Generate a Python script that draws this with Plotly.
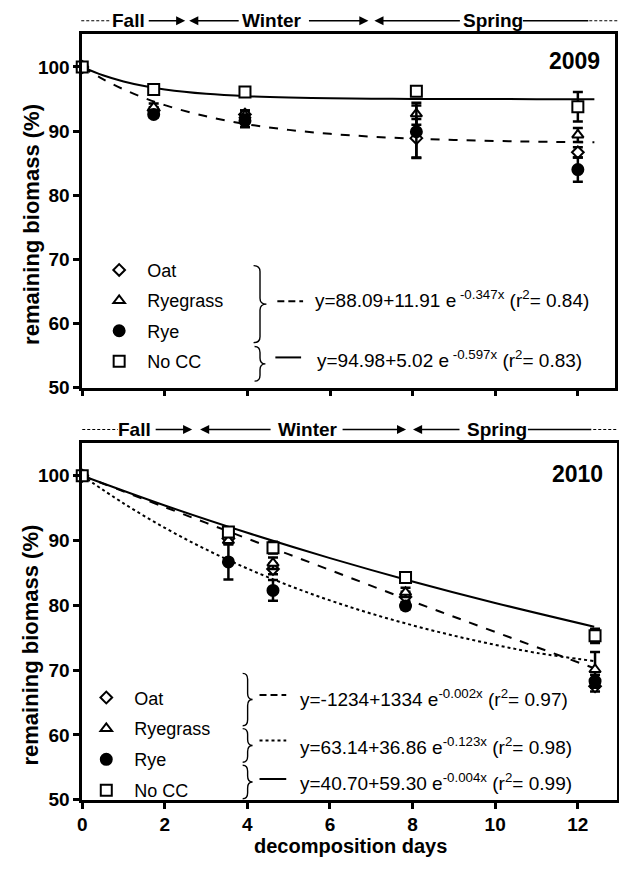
import plotly.graph_objects as go

# ---------------- data ----------------
treatments = ["Oat", "Ryegrass", "Rye", "No CC"]

days_2009 = [0, 1.73, 3.94, 8.09, 12.0]
oat_2009 = [100, 93.2, 92.6, 88.9, 86.7]
oat_2009_err = [0, 0.5, 0.6, 3.0, 0.8]
ryegrass_2009 = [100, 93.7, 92.4, 92.7, 89.4]
ryegrass_2009_err = [0, 0.6, 0.8, 1.7, 1.1]
rye_2009 = [100, 92.6, 91.6, 89.9, 84.0]
rye_2009_err = [0, 0.5, 1.0, 4.1, 1.9]
nocc_2009 = [100, 96.5, 96.1, 96.2, 93.8]
nocc_2009_err = [0, 0.3, 0.4, 0.3, 2.3]

fit_x_2009 = [0, 0.5, 1, 1.5, 2, 3, 4, 5, 6, 7, 8, 9, 10, 11, 12.4]
fit_cc_2009 = [100, 98.10, 96.51, 95.17, 94.04, 92.30, 91.06, 90.19, 89.57, 89.14, 88.83, 88.61, 88.46, 88.35, 88.25]
fit_nocc_2009 = [100, 98.70, 97.74, 97.03, 96.50, 95.82, 95.44, 95.23, 95.12, 95.06, 95.02, 95.00, 94.99, 94.98, 94.98]

days_2010 = [0, 3.54, 4.62, 7.83, 12.42]
oat_2010 = [100, 90.3, 85.6, 81.3, 67.5]
oat_2010_err = [0, 0.6, 0.8, 0.8, 0.8]
ryegrass_2010 = [100, 90.0, 86.5, 82.0, 70.1]
ryegrass_2010_err = [0, 0.5, 0.9, 0.7, 2.7]
rye_2010 = [100, 86.7, 82.3, 79.9, 68.3]
rye_2010_err = [0, 2.7, 1.6, 0.5, 1.0]
nocc_2010 = [100, 91.3, 88.9, 84.3, 75.3]
nocc_2010_err = [0, 0.6, 0.9, 0.5, 1.1]

fit_x_2010a = [0, 2, 4, 6, 8, 10, 12.4]
fit_oatrg_2010 = [100, 95.15, 90.3, 85.45, 80.6, 75.9, 70.3]
fit_nocc_2010 = [100, 95.41, 91.19, 87.29, 83.69, 80.37, 76.70]
fit_x_2010b = [0, 1, 2, 3, 4, 5, 6, 7, 8, 9, 10, 11, 12.4]
fit_rye_2010 = [100, 95.74, 91.96, 88.62, 85.68, 83.07, 80.76, 78.72, 76.92, 75.32, 73.91, 72.67, 71.4]

eq_2009 = ["y=88.09+11.91 e<sup> -0.347x</sup> (r<sup>2</sup>= 0.84)",
           "y=94.98+5.02 e<sup> -0.597x</sup> (r<sup>2</sup>= 0.83)"]
eq_2010 = ["y=-1234+1334 e<sup>-0.002x</sup> (r<sup>2</sup>= 0.97)",
           "y=63.14+36.86 e<sup>-0.123x</sup> (r<sup>2</sup>= 0.98)",
           "y=40.70+59.30 e<sup>-0.004x</sup> (r<sup>2</sup>= 0.99)"]

x_ticks = [0, 2, 4, 6, 8, 10, 12]
y_ticks = [50, 60, 70, 80, 90, 100]

# ---------------- helpers ----------------
W, H = 619, 870
FONT = "Liberation Sans, Arial, sans-serif"


def px(x):
    return x / W


def py(y):
    return 1 - y / H


fig = go.Figure()

symbols = {"Oat": ("diamond", "white", 9),
           "Ryegrass": ("triangle-up", "white", 10),
           "Rye": ("circle", "black", 11),
           "No CC": ("square", "white", 11)}


def add_fit(x, y, dash, xa, ya):
    fig.add_trace(go.Scatter(x=x, y=y, mode="lines", line=dict(color="black", width=2, dash=dash, shape="spline"),
                             xaxis=xa, yaxis=ya, showlegend=False, hoverinfo="skip"))


def add_pts(name, x, y, err, xa, ya, legend):
    sym, fill, size = symbols[name]
    fig.add_trace(go.Scatter(
        x=x, y=y, mode="markers", name=name, xaxis=xa, yaxis=ya, legend=legend, legendgroup=legend + name,
        marker=dict(symbol=sym, color=fill, size=size, line=dict(color="black", width=2)),
        error_y=dict(type="data", array=err, visible=True, thickness=2.5, width=5, color="black"),
        cliponaxis=False))


add_fit(fit_x_2009, fit_cc_2009, "dash", "x", "y")
add_fit(fit_x_2009, fit_nocc_2009, "solid", "x", "y")
for nm, yy, ee in zip(treatments, [oat_2009, ryegrass_2009, rye_2009, nocc_2009],
                      [oat_2009_err, ryegrass_2009_err, rye_2009_err, nocc_2009_err]):
    add_pts(nm, days_2009, yy, ee, "x", "y", "legend")

add_fit(fit_x_2010a, fit_oatrg_2010, "dash", "x2", "y2")
add_fit(fit_x_2010b, fit_rye_2010, "dot", "x2", "y2")
add_fit(fit_x_2010a, fit_nocc_2010, "solid", "x2", "y2")
for nm, yy, ee in zip(treatments, [oat_2010, ryegrass_2010, rye_2010, nocc_2010],
                      [oat_2010_err, ryegrass_2010_err, rye_2010_err, nocc_2010_err]):
    add_pts(nm, days_2010, yy, ee, "x2", "y2", "legend2")

axis_common = dict(showline=True, linewidth=2.5, linecolor="black", mirror=True, ticks="outside",
                   ticklen=6, tickwidth=2.5, tickcolor="black", showgrid=False, zeroline=False,
                   tickfont=dict(family=FONT, size=19, color="black", weight="bold"))

fig.update_layout(
    width=W, height=H, margin=dict(l=0, r=0, t=0, b=0),
    paper_bgcolor="white", plot_bgcolor="white",
    xaxis=dict(domain=[px(78), px(616)], range=[0, 12.9], anchor="y", tickvals=x_ticks,
               showticklabels=False, **axis_common),
    yaxis=dict(domain=[py(392.7), py(34)], range=[50, 105.2], anchor="x", tickvals=y_ticks, **axis_common),
    xaxis2=dict(domain=[px(78), px(617.5)], range=[0, 12.94], anchor="y2", tickvals=x_ticks, **axis_common),
    yaxis2=dict(domain=[py(810), py(449)], range=[50, 105], anchor="x2", tickvals=y_ticks, **axis_common),
    legend=dict(x=px(87), y=py(255), xanchor="left", yanchor="top", bgcolor="rgba(0,0,0,0)",
                font=dict(family=FONT, size=18, color="black"), itemwidth=46, tracegroupgap=4),
    legend2=dict(x=px(74), y=py(688), xanchor="left", yanchor="top", bgcolor="rgba(0,0,0,0)",
                 font=dict(family=FONT, size=18, color="black"), itemwidth=46, tracegroupgap=4.5),
    showlegend=True,
)

ann = []
shapes = []


def text(x, y, s, size, bold=False, xanchor="center", angle=0):
    ann.append(dict(x=px(x), y=py(y), xref="paper", yref="paper", text=s, showarrow=False,
                    xanchor=xanchor, yanchor="middle", textangle=angle,
                    font=dict(family=FONT, size=size, color="black", weight="bold" if bold else "normal")))


def hline(x0, x1, y, dash="solid", width=1.5):
    shapes.append(dict(type="line", xref="paper", yref="paper", x0=px(x0), x1=px(x1), y0=py(y), y1=py(y),
                       line=dict(color="black", width=width, dash=dash)))


def arrow(tail, head, y):
    ann.append(dict(x=px(head), y=py(y), ax=tail - head, ay=0, xref="paper", yref="paper",
                    axref="pixel", ayref="pixel", text="", showarrow=True, arrowhead=2, arrowsize=1.3,
                    arrowwidth=1.4, arrowcolor="black", standoff=0, startstandoff=0))


def brace(xl, ytop, ybot, w):
    xm = xl + w * 0.5
    xt = xl + w
    ym = (ytop + ybot) / 2
    r = min(6, (ybot - ytop) / 5)
    pts = f"M {px(xl)},{py(ytop)} Q {px(xm)},{py(ytop)} {px(xm)},{py(ytop + r)} " \
          f"L {px(xm)},{py(ym - r)} Q {px(xm)},{py(ym)} {px(xt)},{py(ym)} " \
          f"Q {px(xm)},{py(ym)} {px(xm)},{py(ym + r)} L {px(xm)},{py(ybot - r)} " \
          f"Q {px(xm)},{py(ybot)} {px(xl)},{py(ybot)}"
    shapes.append(dict(type="path", xref="paper", yref="paper", path=pts,
                       line=dict(color="black", width=1.4)))


# season headers
def header(y, seg):
    d0, fallc, fa, wl, winc, wa, sl, sprc, sline, d1 = seg
    hline(d0[0], d0[1], y, dash="3px,2px", width=1.2)
    text(fallc, y, "Fall", 19, bold=True)
    arrow(fa[0], fa[1], y)
    arrow(wl[0], wl[1], y)
    text(winc, y, "Winter", 19, bold=True)
    arrow(wa[0], wa[1], y)
    arrow(sl[0], sl[1], y)
    text(sprc, y, "Spring", 19, bold=True)
    hline(sline[0], sline[1], y, width=1.4)
    hline(d1[0], d1[1], y, dash="3px,2px", width=1.2)


header(21, [(77, 107), 125, (144, 182), (237, 186), 270, (306, 367), (460, 373), 493, (523, 589), (590, 619)])
header(435, [(78, 114), 131, (151, 189), (269, 197), 306, (340, 405), (460, 412), 497, (528, 592), (594, 619)])

# year labels
text(603, 62, "2009", 23, bold=True, xanchor="right")
text(606, 480, "2010", 23, bold=True, xanchor="right")

# axis titles
text(26, 227, "remaining biomass (%)", 22, bold=True, angle=-90)
text(26, 653, "remaining biomass (%)", 22, bold=True, angle=-90)
text(349, 857, "decomposition days", 20, bold=True)

# legend braces, line samples, equations (2009)
brace(251, 269, 347, 13)
brace(252, 351, 386, 11)
hline(275, 301, 305, dash="7px,4px", width=2)
hline(273, 299, 362, width=2)
text(311, 303, eq_2009[0], 19, xanchor="left")
text(313, 364, eq_2009[1], 19, xanchor="left")

# 2010
brace(240, 682, 735, 10)
brace(240, 738, 772, 10)
brace(240, 775, 809, 10)
hline(257, 284, 704, dash="7px,4px", width=2)
hline(257, 284, 750, dash="3px,3px", width=2)
hline(257, 284, 789, width=2)
text(296, 707, eq_2010[0], 19, xanchor="left")
text(296, 756, eq_2010[1], 19, xanchor="left")
text(296, 792, eq_2010[2], 19, xanchor="left")

fig.update_layout(annotations=ann, shapes=shapes)
fig.write_html("out.html", config={"displayModeBar": False},
               post_script="document.body.style.margin='0';document.body.style.padding='0';")
